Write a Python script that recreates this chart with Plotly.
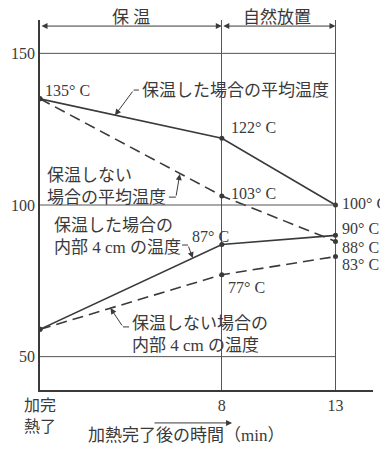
import plotly.graph_objects as go

# 時間 (min)
times = [0, 8, 13]
# 平均温度・内部温度 (°C)
warm_avg = [135, 122, 100]
cool_avg = [135, 103, 88]
warm_inner = [59, 87, 90]
cool_inner = [59, 77, 83]

x_tick_vals = [0, 8, 13]
x_tick_text = ["加完<br>熱了", "8", "13"]
y_tick_vals = [50, 100, 150]

ink = "#3a3a3a"
font = "Liberation Serif, Noto Sans CJK JP"

fig = go.Figure()

fig.add_trace(go.Scatter(x=times, y=warm_avg, mode="lines+markers",
                         line=dict(color=ink, width=1.6), marker=dict(size=5, color=ink)))
fig.add_trace(go.Scatter(x=times, y=cool_avg, mode="lines+markers",
                         line=dict(color=ink, width=1.6, dash="11px,6px"), marker=dict(size=5, color=ink)))
fig.add_trace(go.Scatter(x=times, y=warm_inner, mode="lines+markers",
                         line=dict(color=ink, width=1.6), marker=dict(size=5, color=ink)))
fig.add_trace(go.Scatter(x=times, y=cool_inner, mode="lines+markers",
                         line=dict(color=ink, width=1.6, dash="11px,6px"), marker=dict(size=5, color=ink)))

# horizontal guide lines stop at 13 min
for v in y_tick_vals:
    fig.add_shape(type="line", x0=0, x1=13, y0=v, y1=v, line=dict(color="#555", width=1))

def label(x, y, text, size=17, anchor="left", yref="y"):
    fig.add_annotation(x=x, y=y, yref=yref, text=text, showarrow=False, xanchor=anchor,
                       yanchor="middle", align="left",
                       font=dict(family=font, size=size, color=ink))

def arrow(x0, y0, x1, y1, side="end"):
    fig.add_annotation(x=x1, y=y1, ax=x0, ay=y0, axref="x", ayref="y", text="", showarrow=True,
                       arrowhead=2, arrowsize=1.2, arrowwidth=1, arrowcolor=ink, arrowside=side)

def leader(xs0, xs1, ys, xh, yh):
    # short stroke beside the caption, then the pointer to the curve
    fig.add_shape(type="line", x0=xs0, x1=xs1, y0=ys, y1=ys, line=dict(color=ink, width=1))
    arrow(xs1, ys, xh, yh)

# top span arrows
arrow(0, 159, 8, 159, "end+start")
arrow(8, 159, 13, 159, "end+start")
label(4.0, 1.008, "保 温", anchor="center", yref="paper")
label(10.43, 1.008, "自然放置", anchor="center", yref="paper")

# value labels
label(0.13, 137.9, "135° C", 16)
label(8.31, 125.4, "122° C", 16)
label(8.31, 103.9, "103° C", 16)
label(13.18, 100.6, "100° C", 16)
label(6.59, 89.7, "87° C", 16)
label(13.18, 92.4, "90° C", 16)
label(13.18, 86.1, "88° C", 16)
label(13.18, 80.5, "83° C", 16)
label(8.18, 72.9, "77° C", 16)

# series captions with leaders
label(4.40, 137.9, "保温した場合の平均温度")
leader(4.35, 4.12, 137.9, 3.30, 129.6)
label(0.22, 106.2, "保温しない<br>場合の平均温度")
leader(5.67, 5.98, 102.6, 6.15, 110.2)
label(0.53, 89.7, "保温した場合の<br>内部 4 cm の温度")
leader(6.25, 6.51, 86.8, 6.72, 82.5)
label(3.96, 57.4, "保温しない場合の<br>内部 4 cm の温度")
leader(3.92, 3.65, 59.8, 3.10, 66.0)

# x axis title with arrow
label(6.42, -0.124, "加熱完了後の時間（min）", anchor="center", yref="paper")
fig.add_annotation(x=8.45, y=-0.089, yref="paper", ax=4.97, axref="x", ay=0, ayref="pixel",
                   text="", showarrow=True, arrowhead=2, arrowsize=1.2, arrowwidth=1,
                   arrowcolor=ink)

# the page body keeps an 8px margin, so the figure is sized to end at the window edge
fig.update_layout(
    width=380, height=442,
    margin=dict(l=32, r=15, t=12, b=60),
    paper_bgcolor="white", plot_bgcolor="white",
    showlegend=False,
    font=dict(family=font, size=16, color=ink),
    xaxis=dict(range=[0, 14.65], tickvals=x_tick_vals, ticktext=x_tick_text,
               showgrid=True, gridcolor="#555", gridwidth=1, zeroline=False,
               showline=True, linecolor=ink, linewidth=1.5, ticks="", ticklen=0,
               automargin=False),
    yaxis=dict(range=[39, 161], tickvals=y_tick_vals, showgrid=False, zeroline=False,
               showline=True, linecolor=ink, linewidth=1.5, ticks="", ticklen=0,
               automargin=False),
)

fig.write_html("out.html")
